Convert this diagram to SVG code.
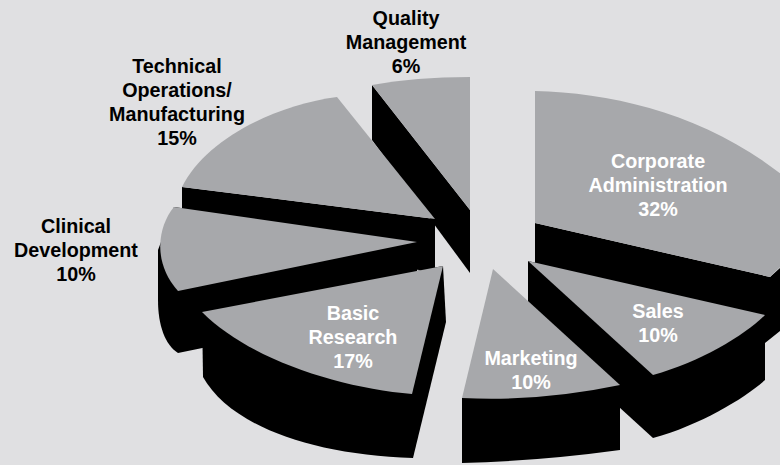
<svg xmlns="http://www.w3.org/2000/svg" width="780" height="465" viewBox="0 0 780 465">
<style>
.top{fill:#a7a8ab}
.side{fill:#000}
.lbl{font-family:"Liberation Sans",Arial,sans-serif;font-weight:bold;font-size:21px;text-anchor:middle}
.dark{fill:#000}
.light{fill:#fff}
</style>
<rect width="780" height="465" fill="#e0e0e2"/>
<g id="quality-management">
<path class="side" d="M372,85 L470,210 L470,273 L372,140 Z"/>
<path class="top" d="M372,85 Q415,77 470,77 L470,210 Z"/>
<g transform="translate(406,0) scale(0.94,1)" class="lbl dark">
<text x="0" y="25">Quality</text>
<text x="0" y="49">Management</text>
<text x="0" y="73">6%</text>
</g>
</g>
<g id="technical-operations">
<path class="side" d="M182,187 L435,219 L435,272 L182,240 Z"/>
<path class="top" d="M337,97 C275,105 205,140 182,187 L435,219 Z"/>
<g transform="translate(177,0) scale(0.94,1)" class="lbl dark">
<text x="0" y="73">Technical</text>
<text x="0" y="97">Operations/</text>
<text x="0" y="121">Manufacturing</text>
<text x="0" y="145">15%</text>
</g>
</g>
<g id="clinical-development">
<path class="side" d="M174,207 L417,242 L417,304 L178,353 C165,345 158,325 158,300 L158,250 Z"/>
<path class="top" d="M174,207 L417,242 L178,291 C152,262 158,226 174,207 Z"/>
<g transform="translate(76,0) scale(0.94,1)" class="lbl dark">
<text x="0" y="233">Clinical</text>
<text x="0" y="257">Development</text>
<text x="0" y="281">10%</text>
</g>
</g>
<g id="basic-research">
<path class="side" d="M202,312 L443,266 L446,322 L413,458 C310,455 230,425 203,377 Z"/>
<path class="top" d="M202,312 L443,266 L412,394 C340,388 250,360 202,312 Z"/>
<g transform="translate(353,0) scale(0.94,1)" class="lbl light">
<text x="0" y="320">Basic</text>
<text x="0" y="344">Research</text>
<text x="0" y="368">17%</text>
</g>
</g>
<g id="corporate-administration">
<path class="side" d="M535,223 L770,277 L800,250 L800,330 L780,331 L765,343 L535,292 Z"/>
<path class="top" d="M535,91 C620,93 720,118 800,190 L800,250 Q785,262 770,277 L535,223 Z"/>
<g transform="translate(658,0) scale(0.94,1)" class="lbl light">
<text x="0" y="168">Corporate</text>
<text x="0" y="192">Administration</text>
<text x="0" y="216">32%</text>
</g>
</g>
<g id="sales">
<path class="side" d="M528,261 L765,315 L765,380 C745,398 700,425 653,438 L528,324 Z"/>
<path class="top" d="M528,261 L765,315 C745,335 700,362 653,375 Z"/>
<g transform="translate(658,0) scale(0.94,1)" class="lbl light">
<text x="0" y="318">Sales</text>
<text x="0" y="342">10%</text>
</g>
</g>
<g id="marketing">
<path class="side" d="M462,398 L620,385 L620,450 Q540,461 462,463 Z"/>
<path class="top" d="M493,269 L620,385 Q539,402 462,398 Z"/>
<g transform="translate(531,0) scale(0.94,1)" class="lbl light">
<text x="0" y="365">Marketing</text>
<text x="0" y="389">10%</text>
</g>
</g>
<g id="connectors"/>
</svg>
